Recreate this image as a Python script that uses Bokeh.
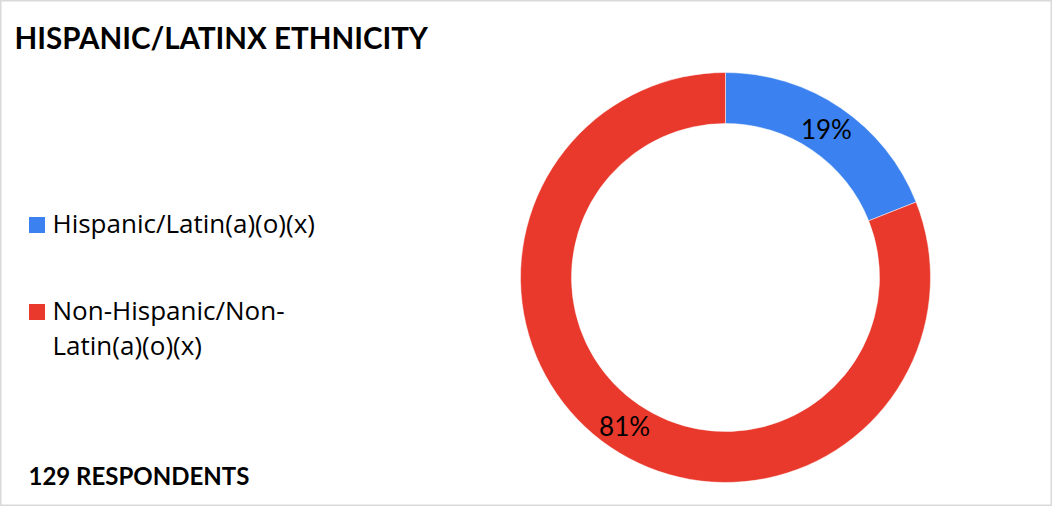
import math
from bokeh.plotting import figure
from bokeh.models import Range1d, ColumnDataSource
from bokeh.core.properties import value
from bokeh.embed import file_html
from bokeh.resources import INLINE

# ---- data ----
categories = ["Hispanic/Latin(a)(o)(x)", "Non-Hispanic/Non-\nLatin(a)(o)(x)"]
percents = [19, 81]
colors = ["#3b82f0", "#e8392c"]
title_text = "HISPANIC/LATINX ETHNICITY"
footnote_text = "129 RESPONDENTS"

W, H = 1052, 506
p = figure(width=W, height=H, output_backend="svg", toolbar_location=None,
           x_range=Range1d(0, W), y_range=Range1d(0, H), min_border=0)
p.axis.visible = False
p.grid.visible = False
p.outline_line_color = "#d9d9d9"
p.outline_line_width = 2
p.background_fill_color = "white"

FONT = "Lato"
LEG_FONT = "Open Sans"

# donut geometry (pixel units)
cx, cy = 725, H - 277
r_out, r_in = 205, 154

total = float(sum(percents))
starts, ends, lx, ly, labels = [], [], [], [], []
cum = 0.0
for v in percents:
    a0 = cum / total
    cum += v
    a1 = cum / total
    starts.append(math.pi / 2 - a1 * 2 * math.pi)
    ends.append(math.pi / 2 - a0 * 2 * math.pi)
    mid = math.pi / 2 - (a0 + a1) / 2 * 2 * math.pi
    rm = (r_out + r_in) / 2
    lx.append(cx + rm * math.cos(mid))
    ly.append(cy + rm * math.sin(mid))
    labels.append(f"{v}%")

src = ColumnDataSource(dict(start=starts, end=ends, color=colors, lx=lx, ly=ly, label=labels))
p.annular_wedge(x=cx, y=cy, inner_radius=r_in, outer_radius=r_out,
                start_angle="start", end_angle="end", fill_color="color",
                line_color="white", line_width=0.5, source=src)
p.text(x="lx", y="ly", text="label", source=src, text_align="center",
       text_baseline="middle", text_font=value(FONT), text_font_size="26px",
       text_color="black")

# legend
leg_y = [H - 224.5, H - 311.5]
line_gap = 35
p.rect(x=[36.5] * len(categories), y=leg_y, width=16, height=16,
       fill_color=colors, line_color=None)
tx, ty, tt = [], [], []
for cat, y0 in zip(categories, leg_y):
    for k, line in enumerate(cat.split("\n")):
        tx.append(52)
        ty.append(y0 - k * line_gap)
        tt.append(line)
p.text(x=tx, y=ty, text=tt, text_align="left", text_baseline="middle",
       text_font=value(LEG_FONT), text_font_size="26px", text_color="black",
       y_offset=-2)

# title & footnote
p.text(x=[14], y=[H - 37], text=[title_text], text_align="left",
       text_baseline="middle", text_font=value(FONT), text_font_size="29.5px",
       text_font_style="bold", text_color="black")
p.text(x=[28], y=[H - 475], text=[footnote_text], text_align="left",
       text_baseline="middle", text_font=value(FONT), text_font_size="24px",
       text_font_style="bold", text_color="black")

open("out.html", "w").write(file_html(p, INLINE))
